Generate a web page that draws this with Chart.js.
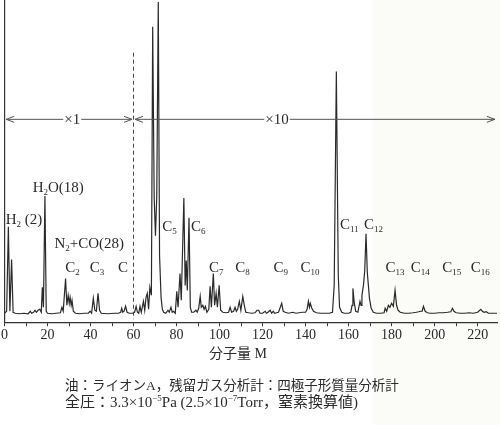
<!DOCTYPE html>
<html>
<head>
<meta charset="utf-8">
<script src="https://cdn.jsdelivr.net/npm/chart.js@4.4.1/dist/chart.umd.min.js"></script>
<style>
  html, body { margin: 0; padding: 0; background: #fff; }
  #wrap { width: 500px; height: 425px; position: relative; }
</style>
</head>
<body>
<div id="wrap"><canvas id="ms"></canvas></div>
<script>
// mass spectrum trace (M, signal above baseline, arbitrary units)
const masses = [
  0, 1, 1.8, 2.5, 3.3, 4, 5, 7, 9, 11, 12, 12.6, 13.5, 14.2, 14.8, 15.6, 16.4, 17.1, 17.6, 18.1,
  18.8, 19.4, 20, 22, 24, 26, 26.7, 27.3, 28.4, 29, 29.6, 30.1, 30.5, 31, 31.4, 32, 33, 35, 37, 39,
  39.8, 40.5, 41.3, 42, 42.7, 43.5, 44.2, 45, 48, 51, 53, 54, 54.5, 55, 55.6, 56.3, 57, 58, 59.5, 60.5,
  61.2, 61.8, 62.4, 63, 63.6, 64.6, 65.2, 65.8, 66.4, 67, 67.6, 68.3, 68.9, 69.6, 70.2, 70.8, 71.5, 72.1, 72.8, 73.4,
  74, 75, 76, 76.6, 77.4, 78, 78.6, 79.4, 80.1, 80.7, 81.6, 82.2, 83.4, 84, 84.5, 85, 85.8, 86.4, 87, 88,
  89, 89.6, 90.3, 91, 91.5, 92.2, 92.8, 93.4, 94.1, 95, 95.6, 96.2, 97.1, 97.7, 98.4, 99, 99.8, 100.5, 101.5, 103,
  104.2, 104.9, 105.6, 106.5, 107.2, 107.8, 108.4, 109.2, 109.9, 110.8, 111.5, 112.2, 113.5, 115, 116.5, 117.4, 118.2, 118.8, 120, 121.2,
  121.8, 122.5, 123.5, 124.2, 125, 125.6, 126.5, 127.4, 128.9, 129.6, 130.5, 132, 134, 135.5, 137, 138.5, 140, 140.7, 141.3, 141.8,
  142.2, 142.9, 143.7, 145, 147, 149, 151, 152.5, 153.3, 154.3, 155.2, 155.8, 156.8, 158, 160, 161, 161.6, 162, 162.6, 163.3,
  164.3, 165.3, 165.8, 166.2, 166.9, 167.5, 168.1, 168.7, 169.7, 170.5, 171.5, 173, 175, 176.5, 177, 177.7, 178.5, 179.2, 180, 180.8,
  181.6, 182.3, 183, 184, 186, 188, 190, 191.5, 192.6, 193.4, 194.2, 194.8, 195.6, 196.6, 198, 200, 202, 204, 206, 207.5,
  208.3, 209, 210, 212, 214, 216, 218, 220, 221.5, 222.2, 223, 224, 225, 227, 229
];
const signal = [
  2, 4, 89, 4, 56, 3, 2, 1.5, 2, 1.5, 4, 2, 3, 5, 3, 5, 6, 3, 28, 8,
  120, 4, 2, 1.5, 2, 2.5, 8, 4, 37, 10, 20, 12, 18, 10, 15, 4, 2, 1.5, 2, 2,
  4, 2, 17, 5, 4, 22, 5, 2, 1.5, 2, 2, 3, 7, 3, 4, 9, 3, 2, 2, 3,
  9, 3, 2, 9, 3, 14, 5, 18, 22, 6, 28, 20, 290, 118, 80, 120, 315, 60, 18, 6,
  3, 2, 5, 3, 8, 3, 4, 2, 24, 8, 42, 15, 118, 30, 55, 25, 98, 8, 3, 3,
  5, 3, 7, 19, 8, 10, 6, 9, 3, 6, 29, 8, 42, 10, 22, 8, 30, 5, 3, 2.5,
  3, 8, 3, 4, 8, 4, 6, 14, 5, 19, 10, 3, 2.5, 2, 2.5, 5, 5, 2, 2, 4,
  2, 3, 5, 2, 4, 2, 2.5, 3, 12, 4, 3, 2, 3, 2, 2.5, 3, 3, 6, 14, 8,
  12, 7, 4, 2.5, 2, 2, 2, 3, 30, 245, 40, 8, 3, 2, 2, 3, 10, 27, 13, 4,
  3, 14, 10, 20, 30, 45, 82, 43, 17, 7, 3, 2, 2, 2.5, 7, 4, 10, 8, 12, 9,
  25, 10, 5, 3, 2, 2, 2.5, 3, 3.5, 4, 4, 9, 4, 2.5, 2, 2, 2.5, 2.5, 3, 3.5,
  7, 4, 2.5, 2, 2, 2.5, 2, 3, 6, 4, 3, 3.5, 2, 2, 2
];

const xTickLabels = [0, 20, 40, 60, 80, 100, 120, 140, 160, 180, 200, 220];

// peak group names ("_" starts a subscript), where they sit (M, signal level)
const peakNames = ['H_2 (2)', 'H_2O(18)', 'N_2+CO(28)', 'C_2', 'C_3', 'C', 'C_5', 'C_6', 'C_7', 'C_8',
                   'C_9', 'C_10', 'C_11', 'C_12', 'C_13', 'C_14', 'C_15', 'C_16'];
const peakNameM = [9.1, 25, 39.4, 31.6, 43.0, 55.1, 76.7, 90.1, 98.5, 110.7,
                   128.5, 142, 160.3, 171.6, 181.6, 193.3, 208, 221.2];
const peakNameLevel = [97, 129, 73, 49, 49, 49, 90, 90, 49, 49,
                       49, 49, 92, 92, 49, 49, 49, 49];

// sensitivity ranges: x1 below M=60, x10 above
const rangeNames = ['×1', '×10'];
const rangeStart = [0.8, 60];
const rangeEnd = [60, 228];
const rangeSwitchM = 60;

const SERIF = '"Liberation Serif", "DejaVu Serif", "Noto Sans CJK JP", serif';
const JP = '"Liberation Serif", "Noto Sans CJK JP", serif';
const INK = '#2a2a2a';

function splitSub(s) {
  const out = [];
  const re = /_(\d+)/g;
  let last = 0, m;
  while ((m = re.exec(s)) !== null) {
    if (m.index > last) out.push([s.slice(last, m.index), 0]);
    out.push([m[1], 1]);
    last = re.lastIndex;
  }
  if (last < s.length) out.push([s.slice(last), 0]);
  return out;
}

// draw text pieces: 0 = normal, 1 = subscript, -1 = superscript
function drawPieces(ctx, pieces, x, cy, size, font, align) {
  const big = size + 'px ' + font;
  const small = Math.round(size * 0.62) + 'px ' + font;
  let w = 0;
  pieces.forEach(([t, k]) => { ctx.font = k ? small : big; w += ctx.measureText(t).width; });
  let px = align === 'center' ? x - w / 2 : x;
  ctx.textBaseline = 'alphabetic';
  ctx.textAlign = 'left';
  pieces.forEach(([t, k]) => {
    ctx.font = k ? small : big;
    const off = k === 1 ? size * 0.2 : (k === -1 ? -size * 0.38 : 0);
    ctx.fillText(t, px, cy + size * 0.34 + off);
    px += ctx.measureText(t).width;
  });
  return w;
}

function arrowHead(ctx, x, y, dir) {
  ctx.beginPath();
  ctx.moveTo(x - dir * 8, y - 3);
  ctx.lineTo(x, y);
  ctx.lineTo(x - dir * 8, y + 3);
  ctx.stroke();
}

const decorations = {
  id: 'decorations',
  beforeDraw(chart) {
    const ctx = chart.ctx;
    ctx.save();
    ctx.fillStyle = '#ffffff';
    ctx.fillRect(0, 0, chart.width, chart.height);
    ctx.fillStyle = '#fbfbf8';
    ctx.fillRect(373, 0, chart.width - 373, chart.height);
    ctx.restore();
  },
  afterDatasetsDraw(chart) {
    const ctx = chart.ctx;
    const xs = chart.scales.x, ys = chart.scales.y;
    ctx.save();

    // dashed divider between the two sensitivity ranges
    ctx.strokeStyle = '#444';
    ctx.lineWidth = 1;
    ctx.setLineDash([4, 3]);
    ctx.beginPath();
    ctx.moveTo(xs.getPixelForValue(rangeSwitchM), ys.getPixelForValue(264));
    ctx.lineTo(xs.getPixelForValue(rangeSwitchM), ys.getPixelForValue(-4));
    ctx.stroke();
    ctx.setLineDash([]);

    // range arrows
    const ay = ys.getPixelForValue(197);
    ctx.strokeStyle = '#555';
    ctx.fillStyle = INK;
    rangeNames.forEach((name, i) => {
      const x0 = xs.getPixelForValue(rangeStart[i]) + (i ? 1.5 : 0);
      const x1 = xs.getPixelForValue(rangeEnd[i]) - (i ? 0 : 1.5);
      const mid = (i === 0) ? xs.getPixelForValue(31.5) : xs.getPixelForValue(126.7);
      ctx.font = '15px ' + SERIF;
      const tw = ctx.measureText(name).width;
      ctx.beginPath();
      ctx.moveTo(x0, ay); ctx.lineTo(mid - tw / 2 - 1, ay);
      ctx.moveTo(mid + tw / 2 + 1, ay); ctx.lineTo(x1, ay);
      ctx.stroke();
      arrowHead(ctx, x0, ay, -1);
      arrowHead(ctx, x1, ay, 1);
      drawPieces(ctx, [[name, 0]], mid, ay, 15, SERIF, 'center');
    });

    // peak group names
    ctx.fillStyle = INK;
    peakNames.forEach((n, i) => {
      drawPieces(ctx, splitSub(n), xs.getPixelForValue(peakNameM[i]),
                 ys.getPixelForValue(peakNameLevel[i]), 15, SERIF, 'center');
    });

    // axis title
    drawPieces(ctx, [['分子量 M', 0]], xs.getPixelForValue(108.6), 353, 14, JP, 'center');

    // measurement notes
    drawPieces(ctx, [['油：ライオンA，残留ガス分析計：四極子形質量分析計', 0]], 65, 385, 13.5, JP, 'left');
    drawPieces(ctx, [['全圧：', 0], ['3.3×10', 0], ['−5', -1], ['Pa (2.5×10', 0], ['−7', -1], ['Torr，窒素換算値)', 0]],
               65, 402, 15, JP, 'left');
    ctx.restore();
  }
};

new Chart(document.getElementById('ms'), {
  type: 'line',
  data: {
    datasets: [{
      data: masses.map((m, i) => ({ x: m, y: signal[i] })),
      borderColor: INK,
      borderWidth: 1.2,
      pointRadius: 0,
      tension: 0,
      fill: false
    }]
  },
  options: {
    responsive: true,
    maintainAspectRatio: false,
    animation: false,
    layout: { padding: { left: 4, right: 3, top: 0, bottom: 80 } },
    plugins: { legend: { display: false }, tooltip: { enabled: false }, title: { display: false } },
    scales: {
      x: {
        type: 'linear',
        min: 0,
        max: 229,
        border: { display: true, color: '#333', width: 1.2 },
        grid: { display: true, drawOnChartArea: false, drawTicks: true, tickLength: 4, color: '#333' },
        ticks: {
          stepSize: 10,
          includeBounds: false,
          autoSkip: false,
          maxRotation: 0,
          padding: 1,
          color: INK,
          font: { family: SERIF, size: 14 },
          callback: v => xTickLabels.includes(v) ? String(v) : ''
        }
      },
      y: {
        min: -7,
        max: 317,
        border: { display: true, color: '#333', width: 1.2 },
        grid: { display: false },
        ticks: { display: false },
        afterFit: s => { s.width = 0; }
      }
    }
  },
  plugins: [decorations]
});
</script>
</body>
</html>
